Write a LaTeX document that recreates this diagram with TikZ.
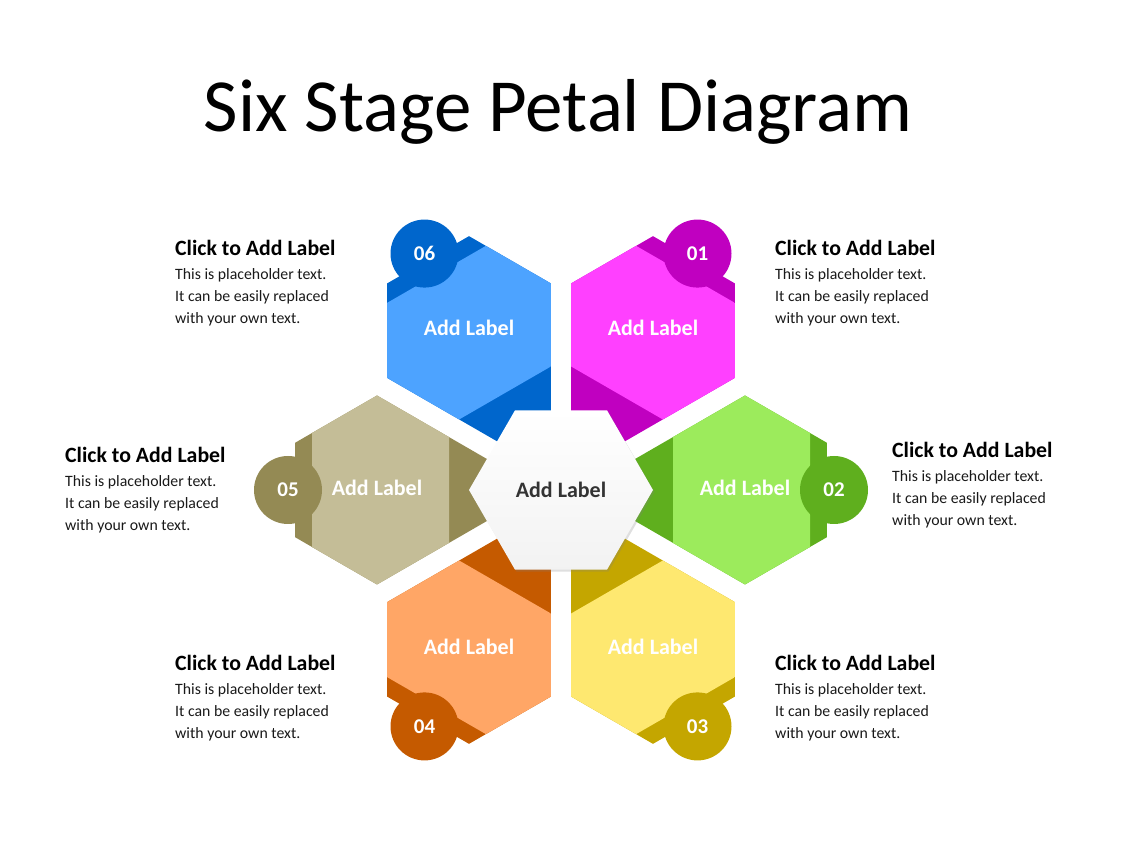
\documentclass[tikz,border=0pt]{standalone}
\usepackage{fontspec}
\setmainfont{Carlito}
\usetikzlibrary{positioning,shadows,shapes.geometric}
\definecolor{bluL}{RGB}{77,163,255}
\definecolor{bluD}{RGB}{0,102,204}
\definecolor{magL}{RGB}{255,64,255}
\definecolor{magD}{RGB}{192,0,192}
\definecolor{grnL}{RGB}{156,235,92}
\definecolor{grnD}{RGB}{95,175,30}
\definecolor{yelL}{RGB}{254,232,112}
\definecolor{yelD}{RGB}{196,166,0}
\definecolor{orgL}{RGB}{255,166,102}
\definecolor{orgD}{RGB}{197,90,0}
\definecolor{oliL}{RGB}{196,189,151}
\definecolor{oliD}{RGB}{148,138,84}

\begin{document}
\begin{tikzpicture}[x=1pt,y=1pt,
   head/.style={font=\bfseries\fontsize{21.8}{25}\selectfont,inner sep=0,anchor=base west},
   body/.style={font=\fontsize{15.8}{22}\selectfont,text=black!90,align=left,inner sep=0},
   numdot/.style={circle,minimum size=68pt,inner sep=0,text=white,font=\bfseries\fontsize{21}{21}\selectfont},
   petal/.style={text=white,font=\bfseries\fontsize{22}{22}\selectfont,yshift=2.5pt},
   hexctr/.style={regular polygon,regular polygon sides=6,minimum size=184pt,inner sep=0,
      top color=white,bottom color=black!5,text=black!80,font=\bfseries\fontsize{22}{22}\selectfont,
      drop shadow={opacity=.25,shadow xshift=1.5pt,shadow yshift=-2pt}}]
   \useasboundingbox (0,0) rectangle (1128,846);
   \coordinate (C) at (561,356);
   \node[font=\fontsize{75}{80}\selectfont,anchor=base] (title) at (558,714) {Six Stage Petal Diagram};
   % petals, outward along the local x axis
   \foreach \ang/\nr/\lite/\dark in {60/01/magL/magD,0/02/grnL/grnD,-60/03/yelL/yelD,
         -120/04/orgL/orgD,180/05/oliL/oliD,120/06/bluL/bluD} {
   \begin{scope}[shift={(C)},rotate=\ang,shift={(184,0)}]
      \fill[\dark] (30:94.5) -- (90:94.5) -- (-163.6,0) -- (270:94.5) -- (330:94.5) -- cycle;
      \begin{scope}
         \clip (-72,-100) rectangle (65,100);
         \fill[\lite] (30:94.5) -- (90:94.5) -- (150:94.5) -- (210:94.5) -- (270:94.5) -- (330:94.5) -- cycle;
      \end{scope}
      \node[numdot,fill=\dark] (N\nr) at (89,0) {\nr};
      \node[petal] (P\nr) at (0,0) {Add Label};
   \end{scope}
   }
   \node[hexctr] (ctr) at (C) {Add Label};
   % side texts
   \node[head] (H01) at (775,590) {Click to Add Label};
   \node[body,below=12pt of H01.base west,anchor=north west] (B01) {This is placeholder text.\\It can be easily replaced\\with your own text.};
   \node[head] (H02) at (892,388) {Click to Add Label};
   \node[body,below=12pt of H02.base west,anchor=north west] (B02) {This is placeholder text.\\It can be easily replaced\\with your own text.};
   \node[head] (H03) at (775,175) {Click to Add Label};
   \node[body,below=12pt of H03.base west,anchor=north west] (B03) {This is placeholder text.\\It can be easily replaced\\with your own text.};
   \node[head] (H04) at (175,175) {Click to Add Label};
   \node[body,below=12pt of H04.base west,anchor=north west] (B04) {This is placeholder text.\\It can be easily replaced\\with your own text.};
   \node[head] (H05) at (65,383) {Click to Add Label};
   \node[body,below=12pt of H05.base west,anchor=north west] (B05) {This is placeholder text.\\It can be easily replaced\\with your own text.};
   \node[head] (H06) at (175,590) {Click to Add Label};
   \node[body,below=12pt of H06.base west,anchor=north west] (B06) {This is placeholder text.\\It can be easily replaced\\with your own text.};
\end{tikzpicture}
\end{document}
